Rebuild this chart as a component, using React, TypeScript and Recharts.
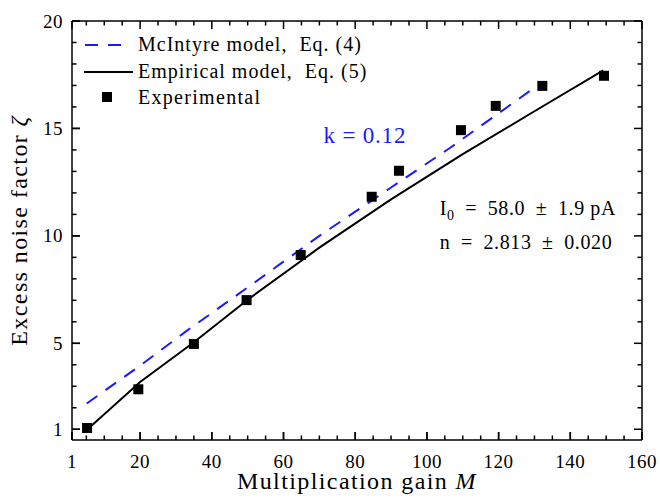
import React from "react";
import { ComposedChart, Line, Scatter, XAxis, YAxis, Legend, ReferenceDot, ReferenceLine } from "recharts";

// experimental points
const EXP_M = [5.2, 19.5, 35.0, 49.7, 64.8, 84.6, 92.2, 109.5, 119.2, 132.2, 149.4];
const EXP_ZETA = [1.06, 2.86, 4.97, 7.01, 9.11, 11.82, 13.03, 14.92, 16.05, 16.98, 17.45];

// empirical model, Eq. (5)
const EMP_M = [5.1, 20, 35, 50, 70, 90, 110, 130, 149.2];
const EMP_ZETA = [0.97, 3.2, 5.05, 7.03, 9.45, 11.7, 13.8, 15.8, 17.7];

// McIntyre model, Eq. (4), k = 0.12
const MCI_M = [5.1, 20, 33, 50, 70, 90, 106.5, 129.7];
const MCI_ZETA = [2.2, 3.96, 5.58, 7.6, 10.0, 12.25, 14.1, 16.86];

const X_TICKS = [1, 5, 10, 15, 20, 25, 30, 35, 40, 45, 50, 55, 60, 65, 70, 75, 80, 85, 90, 95, 100,
  105, 110, 115, 120, 125, 130, 135, 140, 145, 150, 155, 160];
const X_LABELS = [1, 20, 40, 60, 80, 100, 120, 140, 160];
const Y_TICKS = [1, 2, 3, 4, 5, 6, 7, 8, 9, 10, 11, 12, 13, 14, 15, 16, 17, 18, 19, 20];
const Y_LABELS = [1, 5, 10, 15, 20];

const X_DOMAIN = [1, 160];
const Y_DOMAIN = [0.5, 20];

const FONT = "'Liberation Serif', 'Times New Roman', serif";
const BLUE = "#1a1aff";
const INK = "#000";
const MAJOR = 8;
const MINOR = 4.5;
const TICK_W = 1.5;

const toRows = (ms: number[], zs: number[]) => ms.map((m, i) => ({ m, z: zs[i] }));
const expData = toRows(EXP_M, EXP_ZETA);
const empData = toRows(EMP_M, EMP_ZETA);
const mciData = toRows(MCI_M, MCI_ZETA);

const textStyle = { fontFamily: FONT, fontSize: 20, letterSpacing: 1.0, fill: INK };
const tickText = { ...textStyle, fontSize: 19, letterSpacing: 0.5 };
const SP = "\u2002";

function BottomLabel({ x, y, payload }: any) {
  return (
    <text x={x} y={y + 18} textAnchor="middle" style={tickText}>
      {payload.value}
    </text>
  );
}

function LeftLabel({ x, y, payload }: any) {
  return (
    <text x={x} y={y + 6.5} textAnchor="end" style={tickText}>
      {payload.value}
    </text>
  );
}

// inward ticks on both ends of a full-height / full-width reference line
const xTickPair = (len: number) => (p: any) => {
  const top = Math.min(p.y1, p.y2);
  const bot = Math.max(p.y1, p.y2);
  return (
    <g>
      <line x1={p.x1} x2={p.x1} y1={bot} y2={bot - len} stroke={INK} strokeWidth={TICK_W} />
      <line x1={p.x1} x2={p.x1} y1={top} y2={top + len} stroke={INK} strokeWidth={TICK_W} />
    </g>
  );
};

const yTickPair = (len: number) => (p: any) => {
  const left = Math.min(p.x1, p.x2);
  const right = Math.max(p.x1, p.x2);
  return (
    <g>
      <line x1={left} x2={left + len} y1={p.y1} y2={p.y1} stroke={INK} strokeWidth={TICK_W} />
      <line x1={right} x2={right - len} y1={p.y1} y2={p.y1} stroke={INK} strokeWidth={TICK_W} />
    </g>
  );
};

function XTitle({ viewBox }: any) {
  const cx = viewBox.x + viewBox.width / 2;
  return (
    <text x={cx} y={489} textAnchor="middle" style={{ ...textStyle, fontSize: 24, letterSpacing: 1.4 }}>
      Multiplication gain <tspan fontStyle="italic">M</tspan>
    </text>
  );
}

function YTitle({ viewBox }: any) {
  const cy = viewBox.y + viewBox.height / 2;
  return (
    <text
      transform={`translate(27, ${cy}) rotate(-90)`}
      textAnchor="middle"
      style={{ ...textStyle, fontSize: 24, letterSpacing: 1.4 }}
    >
      Excess noise factor <tspan fontStyle="italic">ζ</tspan>
    </text>
  );
}

function LegendBox() {
  return (
    <svg width={300} height={84} style={{ display: "block" }}>
      <line x1={5} x2={42} y1={15} y2={15} stroke={BLUE} strokeWidth={2} strokeDasharray="13 10" />
      <text x={58} y={21} style={textStyle}>{"McIntyre model,\u00A0 Eq. (4)"}</text>
      <line x1={4} x2={53} y1={42} y2={42} stroke={INK} strokeWidth={2} />
      <text x={58} y={48} style={textStyle}>{"Empirical model,\u00A0 Eq. (5)"}</text>
      <rect x={22} y={62} width={10} height={10} fill={INK} />
      <text x={58} y={74} style={{ ...textStyle, letterSpacing: 1.3 }}>Experimental</text>
    </svg>
  );
}

const Square = (p: any) => <rect x={p.cx - 5} y={p.cy - 5} width={10} height={10} fill={INK} />;

export default function App() {
  return (
    <div style={{ position: "absolute", left: 0, top: 0, width: 660, height: 500, background: "#fff" }}>
      <ComposedChart width={660} height={500} margin={{ top: 21, right: 18, bottom: 0, left: 10 }}>
        <XAxis
          dataKey="m"
          type="number"
          domain={X_DOMAIN}
          ticks={X_LABELS}
          interval={0}
          height={60}
          tickSize={-MAJOR}
          tickMargin={18}
          tickLine={{ stroke: INK, strokeWidth: TICK_W }}
          stroke={INK}
          axisLine={{ stroke: INK, strokeWidth: 1.5 }}
          tick={<BottomLabel />}
          label={<XTitle />}
        />
        <YAxis
          dataKey="z"
          type="number"
          domain={Y_DOMAIN}
          ticks={Y_LABELS}
          interval={0}
          width={62}
          tickSize={-MAJOR}
          tickMargin={17}
          tickLine={{ stroke: INK, strokeWidth: TICK_W }}
          stroke={INK}
          axisLine={{ stroke: INK, strokeWidth: 1.5 }}
          tick={<LeftLabel />}
          label={<YTitle />}
        />
        {/* frame: top and right edges */}
        <ReferenceLine x={160} stroke={INK} strokeWidth={1.5} />
        <ReferenceLine y={20} stroke={INK} strokeWidth={1.5} />
        {X_TICKS.map((v) => (
          <ReferenceLine
            key={`xt${v}`}
            x={v}
            stroke={INK}
            strokeWidth={TICK_W}
            shape={xTickPair(X_LABELS.includes(v) ? MAJOR : MINOR)}
          />
        ))}
        {Y_TICKS.map((v) => (
          <ReferenceLine
            key={`yt${v}`}
            y={v}
            stroke={INK}
            strokeWidth={TICK_W}
            shape={yTickPair(Y_LABELS.includes(v) ? MAJOR : MINOR)}
          />
        ))}
        <Legend
          layout="vertical"
          align="center"
          verticalAlign="middle"
          wrapperStyle={{ left: 80, top: 30, width: 300, height: 84 }}
          content={() => <LegendBox />}
        />
        <Line
          data={mciData}
          dataKey="z"
          type="linear"
          stroke={BLUE}
          strokeWidth={2}
          strokeDasharray="13 10"
          dot={false}
          isAnimationActive={false}
        />
        <Line
          data={empData}
          dataKey="z"
          type="linear"
          stroke={INK}
          strokeWidth={2}
          dot={false}
          isAnimationActive={false}
        />
        <Scatter data={expData} dataKey="z" shape={Square} isAnimationActive={false} />
        <ReferenceDot
          x={82.7}
          y={14.3}
          r={0}
          shape={(p: any) => (
            <text x={p.cx} y={p.cy} textAnchor="middle" style={{ ...textStyle, fontSize: 23, letterSpacing: 0.8, fill: BLUE }}>
              k = 0.12
            </text>
          )}
        />
        <ReferenceDot
          x={103.6}
          y={10.97}
          r={0}
          shape={(p: any) => (
            <text x={p.cx} y={p.cy} style={{ ...textStyle, letterSpacing: 0.6 }}>
              I<tspan dy={5} fontSize={14}>0</tspan>
              <tspan dy={-5}>{`${SP}=${SP}58.0${SP}±${SP}1.9 pA`}</tspan>
            </text>
          )}
        />
        <ReferenceDot
          x={103.6}
          y={9.39}
          r={0}
          shape={(p: any) => (
            <text x={p.cx} y={p.cy} style={{ ...textStyle, letterSpacing: 0.6 }}>
              {`n${SP}=${SP}2.813${SP}±${SP}0.020`}
            </text>
          )}
        />
      </ComposedChart>
    </div>
  );
}
